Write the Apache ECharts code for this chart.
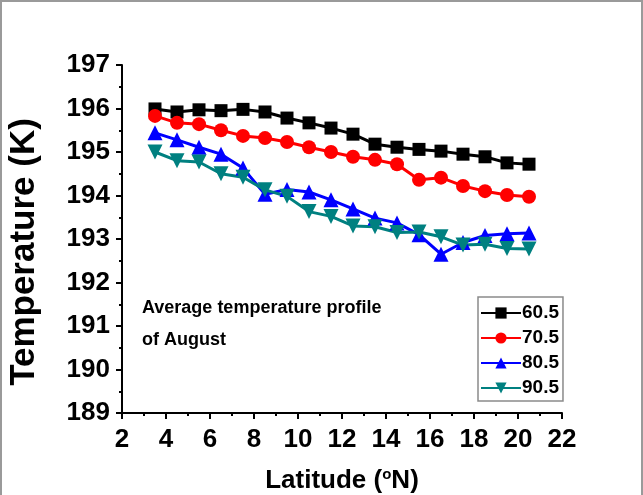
<!DOCTYPE html>
<html>
<head>
<meta charset="utf-8">
<script src="https://cdn.jsdelivr.net/npm/echarts@6/dist/echarts.min.js"></script>
<style>
  html, body { margin: 0; padding: 0; background: #fff; }
  #frame {
    position: absolute; left: 0; top: 0;
    width: 643px; height: 495px;
    box-sizing: border-box;
    border-left: 2px solid #9a9a9a;
    border-top: 2px solid #9a9a9a;
    border-right: 2px solid #9a9a9a;
  }
  #chart { position: absolute; left: 0; top: 0; width: 643px; height: 495px; }
</style>
</head>
<body>
<div id="frame"></div>
<div id="chart"></div>
<script>
// latitude of each point (°N)
const latitude = [3.5, 4.5, 5.5, 6.5, 7.5, 8.5, 9.5, 10.5, 11.5, 12.5, 13.5, 14.5, 15.5, 16.5, 17.5, 18.5, 19.5, 20.5];
// temperature (K) for each series
const t605 = [195.99, 195.92, 195.97, 195.95, 195.98, 195.92, 195.78, 195.67, 195.55, 195.41, 195.18, 195.11, 195.06, 195.02, 194.95, 194.89, 194.75, 194.72];
const t705 = [195.83, 195.67, 195.64, 195.5, 195.37, 195.32, 195.23, 195.11, 195.0, 194.89, 194.82, 194.72, 194.36, 194.41, 194.22, 194.1, 194.01, 193.97];
const t805 = [195.44, 195.28, 195.11, 194.95, 194.63, 194.03, 194.14, 194.08, 193.9, 193.69, 193.48, 193.37, 193.1, 192.65, 192.92, 193.08, 193.12, 193.14];
const t905 = [195.0, 194.8, 194.77, 194.5, 194.42, 194.13, 193.98, 193.63, 193.52, 193.3, 193.28, 193.15, 193.16, 193.05, 192.86, 192.88, 192.78, 192.77];
const seriesNames = ["60.5", "70.5", "80.5", "90.5"];
const xTicks = [2, 4, 6, 8, 10, 12, 14, 16, 18, 20, 22];
const yTicks = [189, 190, 191, 192, 193, 194, 195, 196, 197];

const font = "'Liberation Sans', Arial, sans-serif";

function pairs(ys) {
  return latitude.map((x, i) => [x, ys[i]]);
}

function lineSeries(name, ys, color, symbol, size, rotate) {
  return {
    name: name,
    type: "line",
    data: pairs(ys),
    symbol: symbol,
    symbolSize: size,
    symbolRotate: rotate || 0,
    showAllSymbol: true,
    lineStyle: { color: color, width: 3 },
    itemStyle: { color: color, borderWidth: 0 },
    emphasis: { disabled: true },
    z: 3,
  };
}

const myChart = echarts.init(document.getElementById("chart"));
const option = {
  animation: false,
  backgroundColor: "transparent",
  grid: { left: 122, right: 81, top: 65, bottom: 82, outerBoundsMode: "none", containLabel: false },
  title: {
    text: "Average temperature profile\nof August",
    left: 137,
    top: 287,
    textStyle: {
      fontFamily: font,
      fontWeight: "bold",
      fontSize: 18,
      lineHeight: 32,
      color: "#000",
    },
  },
  legend: {
    orient: "vertical",
    left: 478,
    top: 297,
    padding: [6, 4, 3, 2],
    itemWidth: 40,
    itemHeight: 14,
    itemGap: 5,
    borderColor: "#8a8a8a",
    borderWidth: 1.5,
    data: seriesNames,
    textStyle: {
      fontFamily: font,
      fontWeight: "bold",
      fontSize: 19,
      lineHeight: 20,
      color: "#000",
      padding: [0, 0, 0, -4],
    },
  },
  xAxis: {
    type: "value",
    min: 2,
    max: 22,
    interval: 2,
    name: "Latitude ({s|o}N)",
    nameLocation: "middle",
    nameGap: 54,
    nameTextStyle: {
      fontFamily: font,
      fontWeight: "bold",
      fontSize: 26,
      color: "#000",
      rich: {
        s: {
          fontFamily: font,
          fontWeight: "bold",
          fontSize: 15,
          color: "#000",
          padding: [0, 0, 12, 0],
        },
      },
    },
    axisLine: { lineStyle: { color: "#000", width: 2 } },
    axisTick: { length: 6, lineStyle: { color: "#000", width: 2 } },
    minorTick: { show: true, splitNumber: 2, length: 3, lineStyle: { color: "#000", width: 2 } },
    splitLine: { show: false },
    axisLabel: {
      margin: 14,
      fontFamily: font,
      fontWeight: "bold",
      fontSize: 26,
      color: "#000",
      formatter: (v) => (xTicks.includes(v) ? String(v) : ""),
    },
  },
  yAxis: {
    type: "value",
    min: 189,
    max: 197,
    interval: 1,
    name: "Temperature (K)",
    nameLocation: "middle",
    nameRotate: 90,
    nameGap: 80,
    nameTextStyle: {
      fontFamily: font,
      fontWeight: "bold",
      fontSize: 35,
      color: "#000",
      padding: [0, 26, 0, 0],
    },
    axisLine: { show: true, lineStyle: { color: "#000", width: 2 } },
    axisTick: { show: true, length: 6, lineStyle: { color: "#000", width: 2 } },
    minorTick: { show: true, splitNumber: 2, length: 3, lineStyle: { color: "#000", width: 2 } },
    splitLine: { show: false },
    axisLabel: {
      margin: 12,
      fontFamily: font,
      fontWeight: "bold",
      fontSize: 26,
      color: "#000",
      formatter: (v) => (yTicks.includes(v) ? String(v) : ""),
    },
  },
  series: [
    lineSeries(seriesNames[0], t605, "#000000", "rect", 13),
    lineSeries(seriesNames[1], t705, "#ff0000", "circle", 14),
    lineSeries(seriesNames[2], t805, "#0000ff", "triangle", 15),
    lineSeries(seriesNames[3], t905, "#008080", "triangle", 15, 180),
  ],
};

option && myChart.setOption(option);
</script>
</body>
</html>
